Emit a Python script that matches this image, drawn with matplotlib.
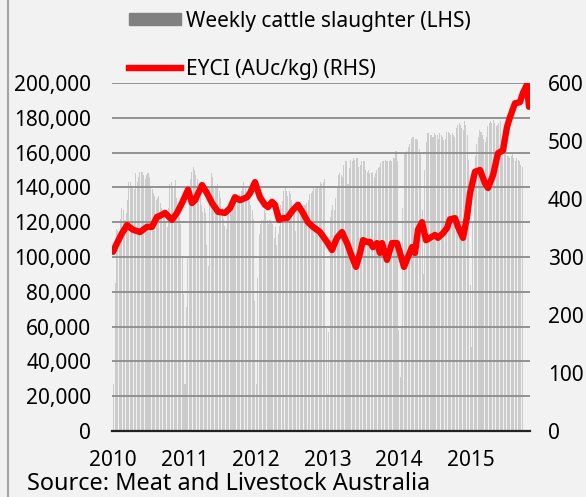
import matplotlib
matplotlib.use("Agg")
import matplotlib.pyplot as plt
from matplotlib.patches import Patch
from matplotlib.lines import Line2D
from matplotlib.ticker import FuncFormatter
import numpy as np
import pandas as pd

plt.rcParams['font.family'] = ['Noto Sans', 'DejaVu Sans']

# weekly cattle slaughter (head), one list per calendar year
slaughter_2010 = [27000, 85000, 116000, 115000, 113000, 122000, 128000, 127000, 121000, 125000,
                  133000, 143000, 143000, 141000, 140000, 139000, 148000, 143000, 146000, 149000,
                  149000, 149000, 147000, 145000, 147000, 148000, 146000, 141000, 139000, 137000,
                  135000, 133000, 134000, 135000, 131000, 128000, 127000, 124000, 120000, 117000,
                  128000, 142000, 143000, 141000, 141000, 144000, 134000, 128000, 123000, 119000,
                  100000, 79000]
slaughter_2011 = [27000, 71000, 100000, 140000, 145000, 149000, 152000, 150000, 147000, 145000,
                  141000, 140000, 130000, 126000, 128000, 125000, 107000, 95000, 140000, 148000,
                  146000, 140000, 141000, 140000, 142000, 138000, 134000, 128000, 122000, 118000,
                  116000, 127000, 128000, 130000, 134000, 134000, 135000, 132000, 134000, 135000,
                  136000, 138000, 141000, 143000, 140000, 138000, 135000, 132000, 130000, 127000,
                  122000, 75000]
slaughter_2012 = [27000, 88000, 113000, 119000, 121000, 121000, 127000, 125000, 121000, 119000,
                  121000, 120000, 119000, 111000, 117000, 107000, 113000, 118000, 130000, 132000,
                  138000, 141000, 138000, 135000, 138000, 136000, 133000, 130000, 128000, 115000,
                  130000, 127000, 128000, 127000, 128000, 130000, 130000, 131000, 133000, 136000,
                  137000, 138000, 140000, 139000, 140000, 141000, 140000, 143000, 142000, 143000,
                  145000, 60000]
slaughter_2013 = [21000, 57000, 123000, 127000, 130000, 127000, 134000, 140000, 147000, 148000,
                  147000, 146000, 153000, 155000, 155000, 142000, 151000, 156000, 155000, 157000,
                  156000, 157000, 157000, 152000, 153000, 155000, 155000, 155000, 150000, 149000,
                  150000, 148000, 148000, 149000, 146000, 148000, 150000, 151000, 152000, 154000,
                  155000, 155000, 156000, 155000, 155000, 155000, 156000, 155000, 157000, 157000,
                  161000, 155000]
slaughter_2014 = [58000, 31000, 59000, 128000, 160000, 160000, 161000, 163000, 165000, 168000,
                  169000, 169000, 168000, 168000, 167000, 162000, 159000, 127000, 90000, 150000,
                  166000, 171000, 171000, 170000, 170000, 169000, 171000, 170000, 170000, 168000,
                  171000, 170000, 169000, 167000, 168000, 172000, 172000, 171000, 170000, 171000,
                  170000, 169000, 174000, 176000, 177000, 176000, 174000, 173000, 178000, 176000,
                  170000, 156000]
slaughter_2015 = [84000, 48000, 120000, 150000, 158000, 165000, 169000, 173000, 172000, 170000,
                  168000, 166000, 169000, 175000, 177000, 178000, 177000, 179000, 177000, 175000,
                  176000, 177000, 178000, 168000, 162000, 160000, 159000, 158000, 158000, 157000,
                  158000, 159000, 157000, 155000, 157000, 156000, 155000, 153000, 152000]

# Eastern Young Cattle Indicator, AUc/kg (decimal year, value)
eyci_year = [2010.00, 2010.056, 2010.126, 2010.196, 2010.280, 2010.378, 2010.476, 2010.545,
             2010.615, 2010.657, 2010.727, 2010.825, 2010.895, 2010.965, 2011.049, 2011.105,
             2011.147, 2011.245, 2011.315, 2011.385, 2011.469, 2011.566, 2011.636, 2011.706,
             2011.776, 2011.874, 2011.916, 2011.986, 2012.056, 2012.126, 2012.168, 2012.224,
             2012.266, 2012.322, 2012.378, 2012.434, 2012.517, 2012.587, 2012.657, 2012.727,
             2012.797, 2012.895, 2012.993, 2013.063, 2013.133, 2013.203, 2013.231, 2013.273,
             2013.343, 2013.399, 2013.455, 2013.497, 2013.552, 2013.594, 2013.636, 2013.692,
             2013.734, 2013.762, 2013.832, 2013.902, 2013.972, 2014.014, 2014.070, 2014.126,
             2014.182, 2014.224, 2014.266, 2014.322, 2014.378, 2014.434, 2014.503, 2014.545,
             2014.615, 2014.671, 2014.713, 2014.783, 2014.825, 2014.895, 2014.951, 2014.993,
             2015.063, 2015.133, 2015.203, 2015.245, 2015.315, 2015.385, 2015.455, 2015.510,
             2015.552, 2015.622, 2015.692, 2015.734, 2015.790, 2015.818]
eyci = [309, 324, 341, 355, 347, 343, 352, 352,
        369, 371, 376, 364, 376, 393, 416, 393,
        398, 424, 410, 393, 378, 376, 384, 403,
        398, 403, 410, 429, 403, 390, 386, 395,
        390, 364, 367, 367, 381, 390, 376, 360,
        352, 343, 326, 312, 333, 343, 335, 324,
        300, 283, 307, 329, 326, 326, 317, 324,
        307, 324, 295, 324, 324, 307, 283, 300,
        317, 307, 347, 360, 329, 333, 338, 333,
        341, 350, 365, 367, 352, 333, 369, 410,
        447, 450, 427, 419, 441, 479, 484, 524,
        541, 565, 567, 583, 597, 559]

year_ticks = [2010, 2011, 2012, 2013, 2014, 2015]

slaughter = (slaughter_2010 + slaughter_2011 + slaughter_2012 +
             slaughter_2013 + slaughter_2014 + slaughter_2015)
weeks = pd.date_range('2010-01-02', periods=len(slaughter), freq='7D')
week_year = weeks.year + (weeks.dayofyear - 1) / np.where(weeks.is_leap_year, 366, 365)

bg = '#f2f2f2'
fs = 15
fig = plt.figure(figsize=(5.86, 4.97), dpi=100, facecolor=bg)
ax = fig.add_axes([112/586, 1-431/497, 418/586, 348/497])
ax.set_facecolor(bg)

ax.bar(week_year, slaughter, width=0.75*7/365.25, color='#cbcbcb', linewidth=0, align='edge')
ax.set_ylim(0, 200000)
ax.set_yticks(range(0, 200001, 20000))
ax.yaxis.set_major_formatter(FuncFormatter(lambda v, p: f'{int(v):,}'))
ax.set_xlim(2010 - 1/71.5, 2010 + 417/71.5)
ax.set_xticks(year_ticks)
ax.set_xticklabels([str(y) for y in year_ticks])
ax.grid(axis='y', color='#8c8c8c', linewidth=1.3)
ax.set_axisbelow(False)
for s in ['top', 'left', 'right']:
    ax.spines[s].set_visible(False)
ax.spines['bottom'].set_color('#222222')
ax.spines['bottom'].set_linewidth(1.6)
ax.spines['bottom'].set_zorder(3)
ax.tick_params(axis='both', length=0, labelsize=fs, colors='black')
ax.tick_params(axis='y', pad=15)
ax.tick_params(axis='x', pad=14)

ax2 = ax.twinx()
ax2.plot(eyci_year, eyci, color='#ff0000', linewidth=4.6, solid_joinstyle='round', solid_capstyle='round')
ax2.set_ylim(0, 600)
ax2.set_yticks(range(0, 601, 100))
for s in ax2.spines.values():
    s.set_visible(False)
ax2.tick_params(axis='y', length=0, labelsize=fs, pad=13)

handles = [Patch(color='#808080'), Line2D([], [], color='#ff0000', linewidth=4.6)]
labels = ['Weekly cattle slaughter (LHS)', 'EYCI (AUc/kg) (RHS)']
fig.legend(handles, labels, loc='upper left', bbox_to_anchor=(110/586, 1+8/497),
           frameon=False, fontsize=fs, handlelength=2.5, handleheight=0.5,
           handletextpad=0.25, labelspacing=1.3)

fig.text(27/586, 1-484/497, 'Source: Meat and Livestock Australia', fontsize=16.9, va='center')
fig.add_artist(Line2D([8/586, 8/586], [0, 1], color='#a6a6a6', linewidth=1.5))

fig.savefig('out.png', dpi=100, facecolor=bg)
